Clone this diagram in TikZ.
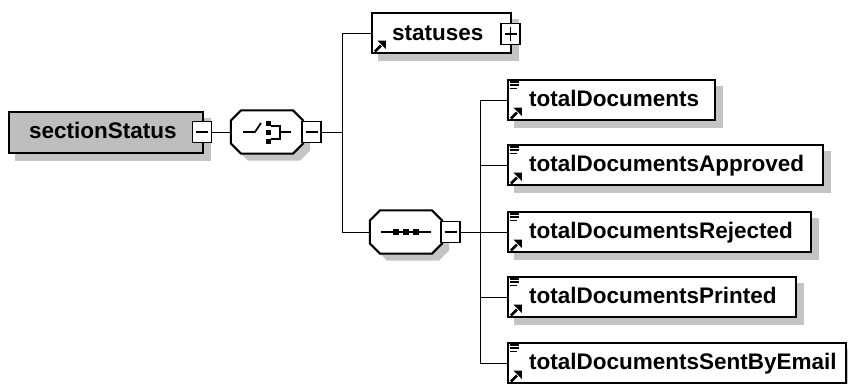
\documentclass[tikz,border=0pt]{standalone}
\usepackage{fontspec}
\setmainfont{Liberation Sans}
\usetikzlibrary{calc,backgrounds}
\definecolor{shgray}{RGB}{196,196,196}
\definecolor{elgray}{RGB}{190,190,190}
\newcommand\octshape[3]{%
  \path[#3] ($(#1.north west)+(10,0)+(#2)$) -- ($(#1.north east)+(-10,0)+(#2)$) -- ($(#1.north east)+(0,10)+(#2)$)
    -- ($(#1.south east)+(0,-10)+(#2)$) -- ($(#1.south east)+(-10,0)+(#2)$) -- ($(#1.south west)+(10,0)+(#2)$)
    -- ($(#1.south west)+(0,-10)+(#2)$) -- ($(#1.north west)+(0,10)+(#2)$) -- cycle;}
\newcommand\boxshadow[1]{%
  \fill[shgray] ($(#1.north west)+(7,7)$) rectangle ($(#1.south east)+(7,7)$);}
\newcommand\refarrow[1]{%
  \draw[line width=2.6pt] ($(#1.south west)+(4,-2.5)$) -- ($(#1.south west)+(10,-8.5)$);
  \fill ($(#1.south west)+(15,-13.5)$) -- ($(#1.south west)+(6.5,-13.5)$) -- ($(#1.south west)+(15,-5)$) -- cycle;}
\newcommand\simplelines[1]{%
  \draw[line width=1.5pt] ($(#1.north west)+(3,3)$) -- +(9.5,0);
  \draw[line width=1.5pt] ($(#1.north west)+(3,6.2)$) -- +(9.5,0);
  \draw[line width=1.5pt] ($(#1.north west)+(3,9.4)$) -- +(7.5,0);}
\begin{document}
\begin{tikzpicture}[x=1pt,y=-1pt,line width=2.1pt,
  elem/.style={draw,fill=white,line width=2.2pt,minimum height=40pt,inner sep=0pt},
  txt/.style={anchor=base west,inner sep=0pt,font=\fontsize{22.5}{27}\selectfont\bfseries},
  pmbox/.style={draw,fill=white,line width=1.8pt,minimum width=19pt,minimum height=21pt,inner sep=0pt},
  minusbox/.style={pmbox,path picture={\draw[line width=1.6pt] ([xshift=3.5pt]path picture bounding box.west) -- ([xshift=-3.5pt]path picture bounding box.east);}},
  plusbox/.style={pmbox,path picture={\draw[line width=1.6pt] ([xshift=3.5pt]path picture bounding box.west) -- ([xshift=-3.5pt]path picture bounding box.east);
     \draw[line width=1.6pt] ([yshift=-3.5pt]path picture bounding box.north) -- ([yshift=3.5pt]path picture bounding box.south);}},
  grp/.style={minimum width=70pt,minimum height=41pt,inner sep=0pt}]
\useasboundingbox (0,0) rectangle (848,383);

% --- root element
\node[elem,fill=elgray,minimum width=194pt,minimum height=41pt] (ss) at (106,132.5) {};
\node[txt] (sst) at (28,138.5) {sectionStatus};
\node[minusbox] (ssm) at (202,132) {};

% --- choice compositor
\node[grp] (ch) at (267,132) {};
\octshape{ch}{0,0}{draw,fill=white,line width=2pt}
\draw[line width=1.7pt] ($(ch)+(-24,0)$) -- ($(ch)+(-12,0)$) -- ($(ch)+(-6,-9)$);
\fill ($(ch)+(-1.5,-11.5)$) rectangle ($(ch)+(3.5,-6.5)$);
\fill ($(ch)+(-1.5,-2.5)$) rectangle ($(ch)+(3.5,2.5)$);
\fill ($(ch)+(-1.5,6.5)$) rectangle ($(ch)+(3.5,11.5)$);
\draw[line width=1.7pt] ($(ch)+(3.5,-6)$) -- ($(ch)+(13,-6)$) -- ($(ch)+(13,7)$) -- ($(ch)+(3.5,7)$);
\draw[line width=1.7pt] ($(ch)+(13,0)$) -- ($(ch)+(24,0)$);
\node[minusbox] (chm) at (311.5,132) {};

% --- statuses
\node[elem,minimum width=139pt] (st) at (441.5,33) {};
\node[txt] (stt) at (391,40.5) {statuses};
\refarrow{st}
\node[plusbox] (stp) at (510.5,34) {};

% --- sequence compositor
\node[grp] (sq) at (406,232) {};
\octshape{sq}{0,0}{draw,fill=white,line width=2pt}
\draw[line width=1.7pt] ($(sq)+(-25,0)$) -- ($(sq)+(25,0)$);
\foreach \dx in {-10,0,10} {\fill ($(sq)+(\dx-3,-3)$) rectangle ($(sq)+(\dx+3,3)$);}
\node[minusbox] (sqm) at (450.5,232) {};

% --- children
\node[elem,minimum width=207pt] (c1) at (611.5,100) {};
\node[txt] (c1t) at (528,106.5) {totalDocuments};
\node[elem,minimum width=315pt] (c2) at (665.5,165) {};
\node[txt] (c2t) at (528,171.5) {totalDocumentsApproved};
\node[elem,minimum width=303pt] (c3) at (659.5,232) {};
\node[txt] (c3t) at (528,238.5) {totalDocumentsRejected};
\node[elem,minimum width=288pt] (c4) at (652,297) {};
\node[txt] (c4t) at (528,303.5) {totalDocumentsPrinted};
\node[elem,minimum width=338pt] (c5) at (677,363) {};
\node[txt] (c5t) at (528,369.5) {totalDocumentsSentByEmail};
\foreach \n in {c1,c2,c3,c4,c5} {\refarrow{\n}\simplelines{\n}}

% --- shadows and connectors (behind)
\coordinate (v1) at (342,132);
\coordinate (v2) at (480,232);
\begin{scope}[on background layer]
\fill[white] (0,0) rectangle (848,383);
\foreach \n in {ss,st,c1,c2,c3,c4,c5} {\boxshadow{\n}}
\octshape{ch}{7,7}{fill=shgray}
\octshape{sq}{7,7}{fill=shgray}
\draw (ssm.east) -- (ch.west);
\draw (chm.east) -- (v1);
\draw (st.west) -| (v1);
\draw (sq.west) -| (v1);
\draw (sqm.east) -- (v2);
\foreach \n in {c1,c2,c3,c4,c5} {\draw (\n.west) -| (v2);}
\end{scope}
\end{tikzpicture}
\end{document}
